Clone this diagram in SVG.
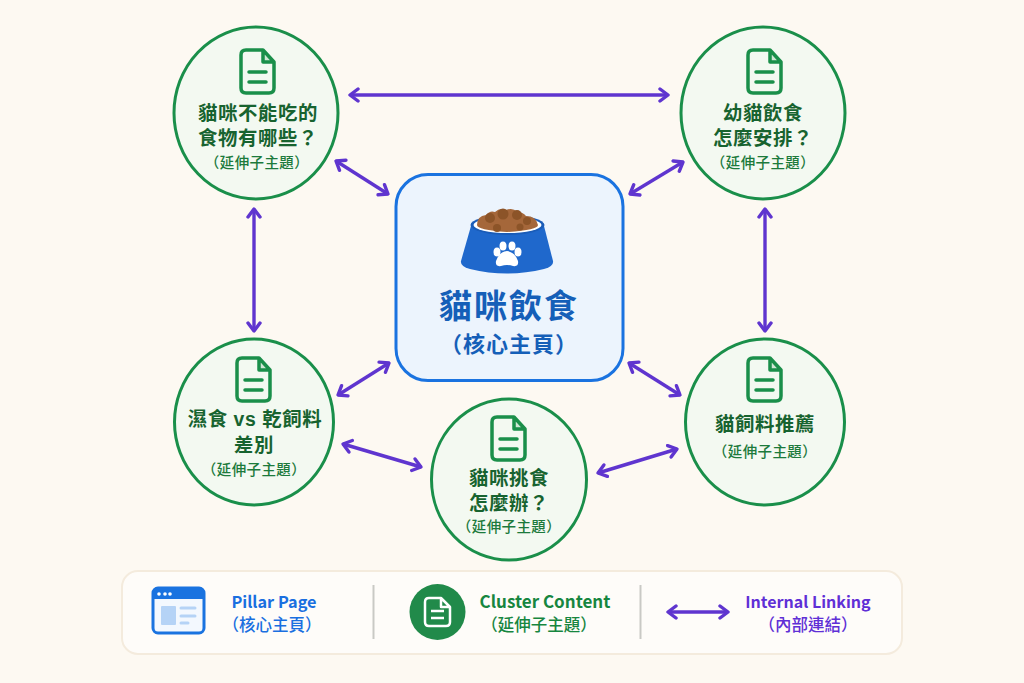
<svg xmlns="http://www.w3.org/2000/svg" width="1024" height="683" viewBox="0 0 1024 683">
<style>
text{font-family:"Noto Sans CJK TC","Noto Sans",sans-serif;text-anchor:middle}
.c{fill:#f3f9f1;stroke:#1a8f4a;stroke-width:3}
text.t{font-family:"Liberation Sans","Noto Sans CJK TC",sans-serif;font-size:19.400px;font-weight:700;fill:#17632f;letter-spacing:.6px}
.s{font-size:14.500px;font-weight:500;fill:#1c7a3c;letter-spacing:.4px}
.a{fill:none;stroke:#5f35cf;stroke-width:3.4;marker-start:url(#h);marker-end:url(#h)}
.doc{fill:none;stroke:#1a8f4a;stroke-width:3.5;stroke-linejoin:round;stroke-linecap:round}
.l{font-size:16.300px;font-weight:600}
.ls{font-size:16.500px;font-weight:500}
</style>
<defs>
<marker id="h" viewBox="-12 -8 14 16" refX="0" refY="0" markerWidth="14" markerHeight="16" markerUnits="userSpaceOnUse" orient="auto-start-reverse">
<path d="M-8-6 0 0-8 6" fill="none" stroke="#5f35cf" stroke-width="3.4" stroke-linecap="round" stroke-linejoin="round"/>
</marker>
<g id="doc"><path d="M5-21V-9H16Z" fill="#cfe6d4"/><path class="doc" d="M-12-21H5L16-9V17Q16 22 11 22H-12Q-17 22-17 17V-16Q-17-21-12-21ZM5-21V-9H16M-9 1H8M-9 11H8"/></g>
</defs>
<rect width="1024" height="683" fill="#fdf9f2"/>
<g id="connectors">
<path class="a" d="M350 95H668"/>
<path class="a" d="M336 161 388 194"/>
<path class="a" d="M683 162 630 194"/>
<path class="a" d="M254 209V331"/>
<path class="a" d="M765 209V331"/>
<path class="a" d="M389 363 338 395"/>
<path class="a" d="M629 363 680 395"/>
<path class="a" d="M343 444 421 467"/>
<path class="a" d="M677 449 598 473"/>
</g>
<g id="n-center">
<rect x="396" y="174.500" width="227" height="206" rx="32" fill="#ecf4fd" stroke="#1a73e0" stroke-width="3"/>
<path d="M471 226 461 261Q460 266 470 269Q507 278 544 269Q554 266 553 261L544 226Z" fill="#1f68cc"/>
<ellipse cx="507.500" cy="225" rx="37" ry="10" fill="#1a5cb8"/>
<ellipse cx="507.500" cy="225" rx="34" ry="8" fill="#fff"/>
<path d="M477 225Q477 216 486 215Q490 210 495 212Q500 207 506 210Q513 207 517 212Q523 212 526 216Q536 216 538 225Q538 230 507 232Q477 230 477 225Z" fill="#a5673a"/>
<g fill="#8c5428"><circle cx="490" cy="218" r="5"/><circle cx="503" cy="214" r="5.500"/><circle cx="517" cy="215" r="5"/><circle cx="527" cy="221" r="4"/><circle cx="497" cy="228" r="4"/><circle cx="520" cy="227" r="3.500"/></g>
<g fill="#fff"><ellipse cx="497" cy="252" rx="3.500" ry="4.500"/><ellipse cx="503" cy="246" rx="3.500" ry="4.500"/><ellipse cx="512" cy="246" rx="3.500" ry="4.500"/><ellipse cx="518" cy="252" rx="3.500" ry="4.500"/><path d="M507 251Q515 252 518 261Q519 267 513 266Q507 264 501 266Q495 267 496 261Q499 252 507 251Z"/></g>
<text x="509" y="318" font-size="33" font-weight="700" fill="#155fb8" letter-spacing="2">貓咪飲食</text>
<text x="509" y="352" font-size="22" font-weight="600" fill="#155fb8" letter-spacing="1">（核心主頁）</text>
</g>
<g id="n-tl"><ellipse class="c" cx="256" cy="113" rx="82" ry="86"/><use href="#doc" x="258" y="71"/>
<text class="t"><tspan x="258" y="120">貓咪不能吃的</tspan><tspan x="258" y="145">食物有哪些？</tspan></text><text class="s" x="257" y="168">（延伸子主題）</text></g>
<g id="n-tr"><ellipse class="c" cx="763" cy="113" rx="82" ry="86"/><use href="#doc" x="765" y="71"/>
<text class="t"><tspan x="763" y="120">幼貓飲食</tspan><tspan x="763" y="145">怎麼安排？</tspan></text><text class="s" x="763" y="168">（延伸子主題）</text></g>
<g id="n-bl"><ellipse class="c" cx="254" cy="422" rx="79.500" ry="83"/><use href="#doc" x="254" y="379"/>
<text class="t"><tspan x="255" y="426">濕食 vs 乾飼料</tspan><tspan x="254" y="452">差別</tspan></text><text class="s" x="254" y="475">（延伸子主題）</text></g>
<g id="n-br"><ellipse class="c" cx="765" cy="422" rx="79.500" ry="83"/><use href="#doc" x="765" y="379"/>
<text class="t" x="765" y="431">貓飼料推薦</text><text class="s" x="765" y="457">（延伸子主題）</text></g>
<g id="n-bc"><ellipse class="c" cx="509" cy="479.500" rx="77.500" ry="80.500"/><use href="#doc" x="509" y="438"/>
<text class="t"><tspan x="509" y="485">貓咪挑食</tspan><tspan x="509" y="510">怎麼辦？</tspan></text><text class="s" x="509" y="532">（延伸子主題）</text></g>
<g id="legend">
<rect x="122" y="571" width="780" height="83" rx="16" fill="#fefcf9" stroke="#f4ebdd" stroke-width="2"/>
<path d="M373.500 585V639M640.500 585V639" stroke="#c9c9c5" stroke-width="2"/>
<rect x="153" y="588" width="51" height="45" rx="5" fill="#f3f8fe" stroke="#1a73e0" stroke-width="3"/>
<path d="M153 599V593Q153 588 158 588H199Q204 588 204 593V599Z" fill="#1a73e0"/>
<g fill="#fff"><circle cx="159" cy="594" r="1.800"/><circle cx="165" cy="594" r="1.800"/><circle cx="170" cy="594" r="1.800"/></g>
<rect x="161" y="606" width="15" height="19" rx="1" fill="#b5d3f6"/>
<path d="M181 608H195M181 616H195M181 623H188" stroke="#b5d3f6" stroke-width="3" stroke-linecap="round"/>
<text class="l" x="274" y="608" fill="#1a6fe0">Pillar Page</text>
<text class="ls" x="272" y="631" fill="#1a6fe0">（核心主頁）</text>
<circle cx="437.500" cy="612" r="28" fill="#218a4a"/>
<path d="M429 598H441L450 607V622Q450 626 446 626H429Q425 626 425 622V602Q425 598 429 598ZM441 598V607H450M431 611H444M431 618H444" fill="none" stroke="#fff" stroke-width="2.500" stroke-linejoin="round"/>
<text class="l" x="545" y="608" fill="#17863f" style="font-size:17px">Cluster Content</text>
<text class="ls" x="539" y="631" fill="#17863f">（延伸子主題）</text>
<path class="a" d="M668 612H728"/>
<text class="l" x="808" y="608" fill="#5f2fd6" style="font-size:16px">Internal Linking</text>
<text class="ls" x="808" y="631" fill="#5f2fd6">（內部連結）</text>
</g>
</svg>
